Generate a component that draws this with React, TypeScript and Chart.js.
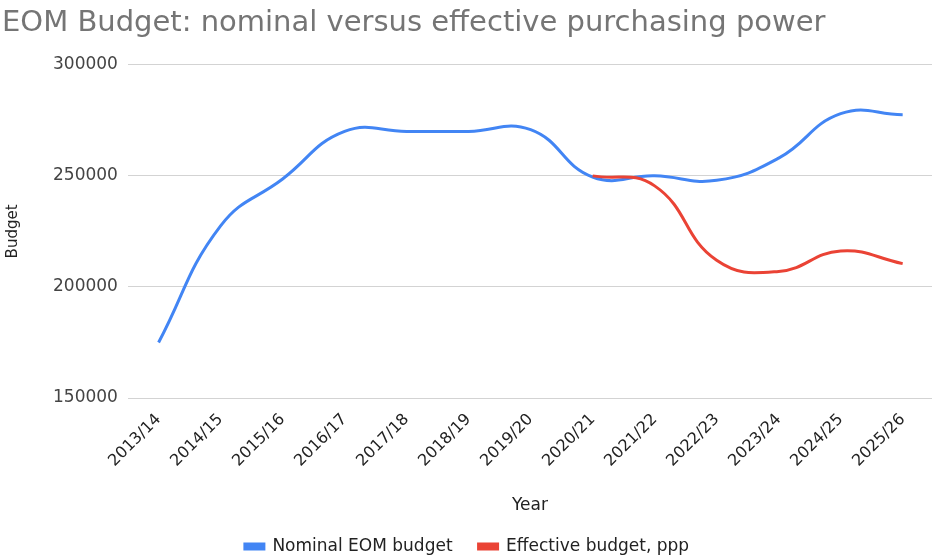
import React, { useEffect, useRef } from "react";
import { Chart, registerables } from "chart.js";

Chart.register(...registerables);

const years = ["2013/14", "2014/15", "2015/16", "2016/17", "2017/18", "2018/19", "2019/20", "2020/21", "2021/22", "2022/23", "2023/24", "2024/25", "2025/26"];
const nominalBudget = [175000, 227500, 248600, 270000, 270000, 270000, 270800, 249500, 250000, 248000, 258000, 278000, 277500];
const effectiveBudget = [null, null, null, null, null, null, null, 250000, 245500, 212000, 207000, 216200, 210500];
const yTicks = [150000, 200000, 250000, 300000];

const FONT = "'DejaVu Sans', sans-serif";

export default function App() {
  const ref = useRef<HTMLCanvasElement | null>(null);
  useEffect(() => {
    if (!ref.current) return;
    const chart = new Chart(ref.current, {
      type: "line",
      data: {
        datasets: [
          {
            label: "Nominal EOM budget",
            data: nominalBudget.map((v, i) => ({ x: i, y: v })),
            borderColor: "#4285F4",
            backgroundColor: "#4285F4",
            borderWidth: 3,
            pointRadius: 0,
            tension: 0.45,
            order: 1,
          },
          {
            label: "Effective budget, ppp",
            data: effectiveBudget.map((v, i) => ({ x: i, y: v })),
            borderColor: "#EA4335",
            backgroundColor: "#EA4335",
            borderWidth: 3,
            pointRadius: 0,
            tension: 0.45,
            spanGaps: false,
            order: 0,
          },
        ],
      },
      options: {
        animation: false,
        responsive: true,
        maintainAspectRatio: false,
        layout: { padding: { left: 2, right: 0, top: 2, bottom: -7 } },
        plugins: {
          title: {
            display: true,
            text: "EOM Budget: nominal versus effective purchasing power",
            align: "start",
            color: "#757575",
            font: { family: FONT, size: 29, weight: "normal" },
            padding: { top: 4, bottom: 24 },
          },
          legend: {
            position: "bottom",
            labels: {
              color: "#222",
              font: { family: FONT, size: 17 },
              boxWidth: 19,
              boxHeight: 5,
              padding: 26,
              sort: (a: any, b: any) => a.datasetIndex - b.datasetIndex,
            },
          },
          tooltip: { enabled: false },
        },
        scales: {
          x: {
            type: "linear",
            min: -0.495,
            max: 12.473,
            grid: { display: false },
            border: { display: false },
            ticks: {
              stepSize: 1,
              includeBounds: false,
              autoSkip: false,
              maxRotation: 45,
              minRotation: 45,
              color: "#222",
              font: { family: FONT, size: 16 },
              padding: 4,
              callback: (v: any) => (Number.isInteger(v) ? years[v] : ""),
            },
            title: {
              display: true,
              text: "Year",
              color: "#222",
              font: { family: FONT, size: 17 },
              padding: { top: 21, bottom: -4 },
            },
          },
          y: {
            min: yTicks[0],
            max: yTicks[yTicks.length - 1],
            grid: { color: "#d3d3d3", lineWidth: 1, drawTicks: false },
            border: { display: false },
            afterBuildTicks: (axis: any) => {
              axis.ticks = yTicks.map((v) => ({ value: v }));
            },
            ticks: {
              color: "#444",
              font: { family: FONT, size: 17 },
              padding: 10,
              callback: (v: any) => String(v),
            },
            title: {
              display: true,
              text: "Budget",
              color: "#222",
              font: { family: FONT, size: 15 },
              padding: { top: 2, bottom: 21 },
            },
          },
        },
      },
    });
    return () => chart.destroy();
  }, []);
  return (
    <div style={{ position: "absolute", left: 0, top: 0, width: 932, height: 558, background: "#fff" }}>
      <canvas ref={ref} />
    </div>
  );
}
